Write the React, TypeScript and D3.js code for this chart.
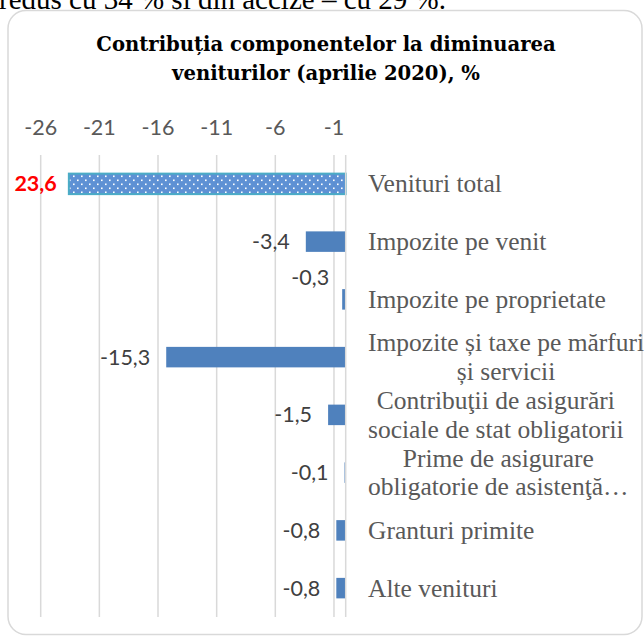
import React, { useEffect, useRef } from "react";
import * as d3 from "d3";

const categories = [
  "Venituri total",
  "Impozite pe venit",
  "Impozite pe proprietate",
  "Impozite și taxe pe mărfuri și servicii",
  "Contribuţii de asigurări sociale de stat obligatorii",
  "Prime de asigurare obligatorie de asistenţă medicală",
  "Granturi primite",
  "Alte venituri",
];
const categoryLines = [
  ["Venituri total"],
  ["Impozite pe venit"],
  ["Impozite pe proprietate"],
  ["Impozite și taxe pe mărfuri", "și servicii"],
  ["Contribuţii de asigurări", "sociale de stat obligatorii"],
  ["Prime de asigurare", "obligatorie de asistenţă…"],
  ["Granturi primite"],
  ["Alte venituri"],
];
const values = [-23.6, -3.4, -0.3, -15.3, -1.5, -0.1, -0.8, -0.8];
const tickValues = [-26, -21, -16, -11, -6, -1];
const titleLines = ["Contribuția componentelor la diminuarea", "veniturilor (aprilie 2020), %"];
const aboveText = "redus cu 34 % și din accize – cu 29 %.";

const locale = d3.formatLocale({
  decimal: ",",
  thousands: ".",
  grouping: [3],
  currency: ["", ""],
  minus: "-",
});
const fmt = locale.format(".1f");

export default function App() {
  const ref = useRef<SVGSVGElement>(null);

  useEffect(() => {
    const svg = d3.select(ref.current);
    svg.selectAll("*").remove();

    const W = 644, H = 637;
    const x = d3.scaleLinear().domain([-26, 0]).range([40.7, 345.7]);
    const y = d3
      .scaleBand<string>()
      .domain(categories)
      .range([155, 617])
      .paddingInner(0.645)
      .paddingOuter(0.3225);

    const defs = svg.append("defs");
    const pat = defs
      .append("pattern")
      .attr("id", "dots")
      .attr("patternUnits", "userSpaceOnUse")
      .attr("width", 8)
      .attr("height", 8)
      .attr("x", 0)
      .attr("y", 174);
    pat.append("rect").attr("width", 8).attr("height", 8).attr("fill", "#5088d0");
    pat.append("rect").attr("x", 1).attr("y", 1.5).attr("width", 1.6).attr("height", 1.6).attr("fill", "#ffffff");
    pat.append("rect").attr("x", 5).attr("y", 5.5).attr("width", 1.6).attr("height", 1.6).attr("fill", "#ffffff");

    // text above the chart (cut off by the crop)
    svg
      .append("text")
      .attr("x", -1)
      .attr("y", 9)
      .attr("font-family", "Liberation Serif")
      .attr("font-size", 29)
      .attr("fill", "#000")
      .text(aboveText);

    // chart border
    svg
      .append("rect")
      .attr("x", 8)
      .attr("y", 10.5)
      .attr("width", 634)
      .attr("height", 624)
      .attr("rx", 18)
      .attr("fill", "#fff")
      .attr("stroke", "#d9d9d9")
      .attr("stroke-width", 1.5);

    // title
    svg
      .append("g")
      .selectAll("text")
      .data(titleLines)
      .join("text")
      .attr("x", 326)
      .attr("y", (_, i) => 51 + i * 29)
      .attr("text-anchor", "middle")
      .attr("font-family", "DejaVu Serif")
      .attr("font-weight", "bold")
      .attr("font-size", 19.6)
      .attr("fill", "#000")
      .text((d) => d);

    // gridlines
    svg
      .append("g")
      .selectAll("line")
      .data(tickValues)
      .join("line")
      .attr("x1", (d) => x(d))
      .attr("x2", (d) => x(d))
      .attr("y1", 155)
      .attr("y2", 617)
      .attr("stroke", "#d9d9d9")
      .attr("stroke-width", 1.5);

    // tick labels
    svg
      .append("g")
      .selectAll("text")
      .data(tickValues)
      .join("text")
      .attr("x", (d) => x(d))
      .attr("y", 135)
      .attr("text-anchor", "middle")
      .attr("font-family", "Lato")
      .attr("font-size", 21.5)
      .attr("fill", "#595959")
      .text((d) => locale.format("d")(d));

    // bars
    const bars = svg.append("g");
    values.forEach((v, i) => {
      const c = categories[i];
      if (i === 0) {
        bars
          .append("rect")
          .attr("x", x(v))
          .attr("y", y(c)!)
          .attr("width", x(0) - x(v))
          .attr("height", y.bandwidth())
          .attr("fill", "url(#dots)")
          .attr("fill-opacity", 0.92)
          .attr("stroke", "#4bacc6")
          .attr("stroke-width", 2);
      } else {
        bars
          .append("rect")
          .attr("x", x(v))
          .attr("y", y(c)!)
          .attr("width", Math.max(0.8, x(0) - x(v)))
          .attr("height", y.bandwidth())
          .attr("fill", "#4f81bd");
      }
    });

    // axis line at zero
    svg
      .append("line")
      .attr("x1", x(0))
      .attr("x2", x(0))
      .attr("y1", 155)
      .attr("y2", 617)
      .attr("stroke", "#d9d9d9")
      .attr("stroke-width", 1.5);

    // value labels
    const shift: Record<string, [number, number]> = {
      "Impozite pe proprietate": [3, -22],
    };
    values.forEach((v, i) => {
      const c = categories[i];
      const cy = y(c)! + y.bandwidth() / 2;
      const [sx, sy] = shift[c] || [0, 0];
      const t = svg
        .append("text")
        .attr("x", x(v) - 16 + sx)
        .attr("y", cy + 7.5 + sy)
        .attr("text-anchor", "end")
        .attr("font-family", "Lato")
        .attr("font-size", 21.5);
      if (i === 0) {
        t.attr("fill", "#ff0000").attr("font-weight", "bold").attr("x", x(v) - 12).text(fmt(Math.abs(v)));
      } else {
        t.attr("fill", "#404040").text(fmt(v));
      }
    });

    // category labels
    const lh = 28.5;
    categoryLines.forEach((lines, i) => {
      const c = categories[i];
      const cy = y(c)! + y.bandwidth() / 2;
      const g = svg.append("g");
      const texts = g
        .selectAll("text")
        .data(lines)
        .join("text")
        .attr("y", (_, j) => cy - ((lines.length - 1) * lh) / 2 + j * lh + 8.5)
        .attr("font-family", "Liberation Serif")
        .attr("font-size", 25.5)
        .attr("fill", "#595959")
        .text((d) => d);
      let maxW = 0;
      texts.each(function () {
        maxW = Math.max(maxW, (this as SVGTextElement).getComputedTextLength());
      });
      texts.attr("text-anchor", "middle").attr("x", 368 + maxW / 2);
    });

    svg.attr("width", W).attr("height", H);
  }, []);

  return (
    <svg
      ref={ref}
      width={644}
      height={637}
      style={{ position: "absolute", left: 0, top: 0, background: "#fff" }}
    />
  );
}
